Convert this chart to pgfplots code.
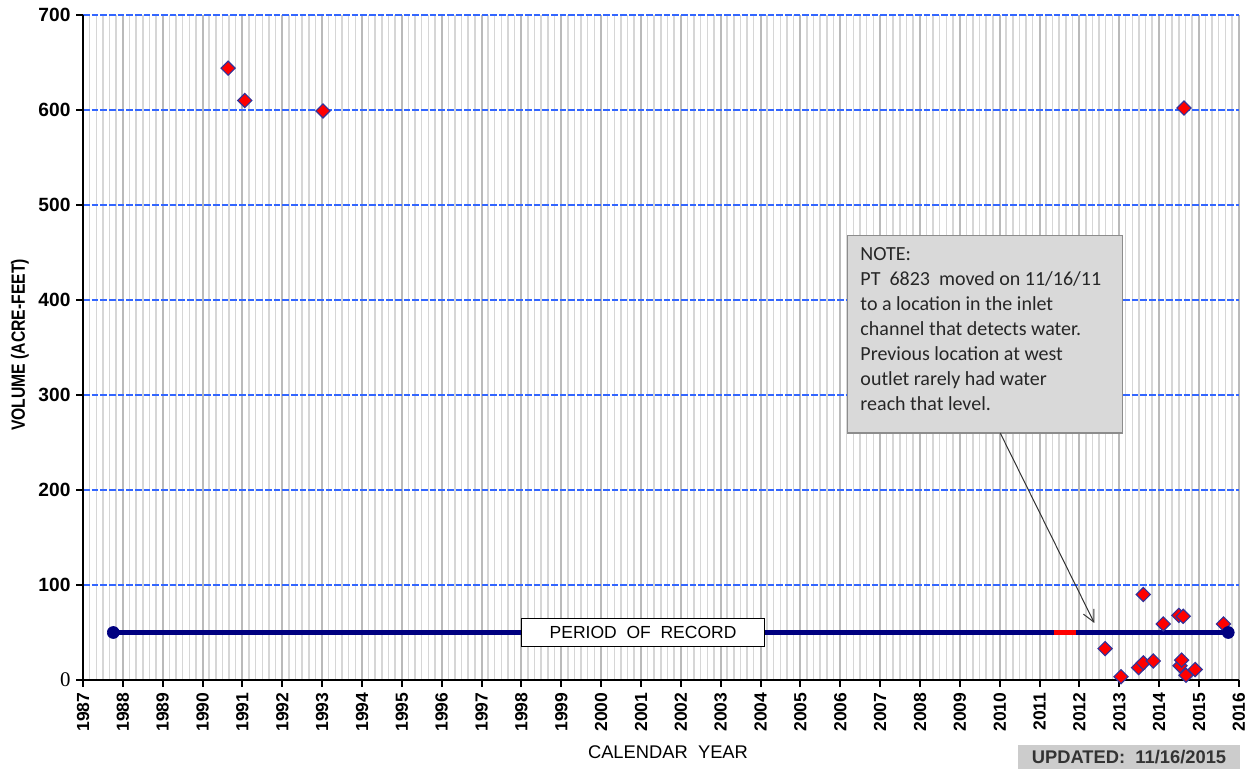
\documentclass[border=0pt]{standalone}
\usepackage{pgfplots}
\pgfplotsset{compat=1.18}
\usepackage{fontspec}
\setmainfont{Liberation Sans}
\newfontfamily\notefont{Carlito}
\newfontfamily\seriffont{Liberation Serif}
\usetikzlibrary{arrows.meta}
\definecolor{gridblue}{HTML}{3366FF}
\definecolor{navyline}{HTML}{000080}
\definecolor{markedge}{HTML}{333399}
\definecolor{notefill}{HTML}{D9D9D9}
\definecolor{noteedge}{HTML}{8C8C8C}
\begin{document}
\begin{tikzpicture}
\begin{axis}[
    at={(0,0)}, anchor=south west,
    scale only axis,
    width=693.6pt, height=399pt,
    xmin=1987, xmax=2016,
    ymin=0, ymax=700,
    axis x line*=bottom, axis y line*=left,
    axis line style={line width=1.5pt, -},
    xtick={1987,...,2016},
    minor xtick={1987,1987.1666667,...,2016},
    ytick={0,100,200,300,400,500,600,700},
    yticklabels={{\seriffont\mdseries\fontsize{12.5}{12}\selectfont 0},100,200,300,400,500,600,700},
    xmajorgrids, xminorgrids, ymajorgrids,
    major x grid style={draw=black!27, line width=1.2pt},
    minor x grid style={draw=black!16, line width=0.9pt},
    major y grid style={draw=gridblue, line width=1.1pt, dash pattern=on 4pt off 1.2pt},
    tick align=outside,
    major tick length=4pt, minor tick length=0pt,
    tick style={black, line width=1.2pt},
    xticklabel style={rotate=90, anchor=east, font=\bfseries\fontsize{10.5}{12}\selectfont},
    yticklabel style={font=\bfseries\fontsize{11.5}{12}\selectfont},
    /pgf/number format/1000 sep={},
    /pgf/number format/assume math mode=true,
    clip=false,
]
% period of record
\addplot[navyline, line width=3pt] coordinates {(1987.76,50) (2015.73,50)};
\addplot[red, line width=3pt] coordinates {(2011.35,50) (2011.91,50)};

% measured volumes
\addplot[only marks, mark=square*, mark size=3pt,
    mark options={rotate=45, fill=red, draw=markedge, line width=0.7pt}]
    coordinates {
    (1990.64,644) (1991.06,610) (1993.02,599) (2014.62,602)
    (2012.64,33) (2013.04,3.5) (2013.48,13) (2013.60,18) (2013.60,90)
    (2013.85,20) (2014.10,59) (2014.49,68) (2014.60,67) (2014.52,15)
    (2014.56,21) (2014.67,5) (2014.90,11) (2015.61,59)
    };

\addplot[only marks, mark=*, mark size=3.6pt, navyline]
    coordinates {(1987.76,50) (2015.73,50)};

\node[draw=black, line width=0.8pt, fill=white, minimum width=145.8pt,
    minimum height=17pt, inner sep=0pt, font=\fontsize{10.5}{12}\selectfont]
    at (axis cs:2001.05,50) {PERIOD\ \ OF\ \ RECORD};

\draw[draw=noteedge, fill=notefill, line width=0.7pt]
    (axis cs:2006.17,260) rectangle (axis cs:2013.07,468);
\node[anchor=north west, align=left, inner xsep=7.8pt, inner ysep=7pt,
    font=\notefont\fontsize{12}{15}\selectfont, text=black!85]
    at (axis cs:2006.17,468)
    {NOTE:\\PT\ \ 6823\ \ moved on 11/16/11\\to a location in the inlet\\channel that detects water.\\Previous location at west\\outlet rarely had water\\reach that level.};
\draw[black!80, line width=0.6pt, -{Straight Barb[length=7pt,width=7pt]}]
    (axis cs:2010.01,260) -- (axis cs:2012.37,60);
\end{axis}
\node[rotate=90, xscale=0.82, font=\bfseries\fontsize{11.5}{12}\selectfont] at (-37.8pt,201pt) {VOLUME (ACRE-FEET)};
\node[font=\fontsize{11}{12}\selectfont] at (351pt,-43.2pt) {CALENDAR\ \ YEAR};
\node[fill=black!20, minimum width=133pt, minimum height=14.4pt, inner sep=0pt,
    font=\bfseries\fontsize{11}{12}\selectfont, text=black!80]
    at (627.6pt,-46.2pt) {UPDATED:\ \ 11/16/2015};
\pgfresetboundingbox
\useasboundingbox (-49.8pt,-54.6pt) rectangle (702.6pt,408pt);
\end{tikzpicture}
\end{document}
